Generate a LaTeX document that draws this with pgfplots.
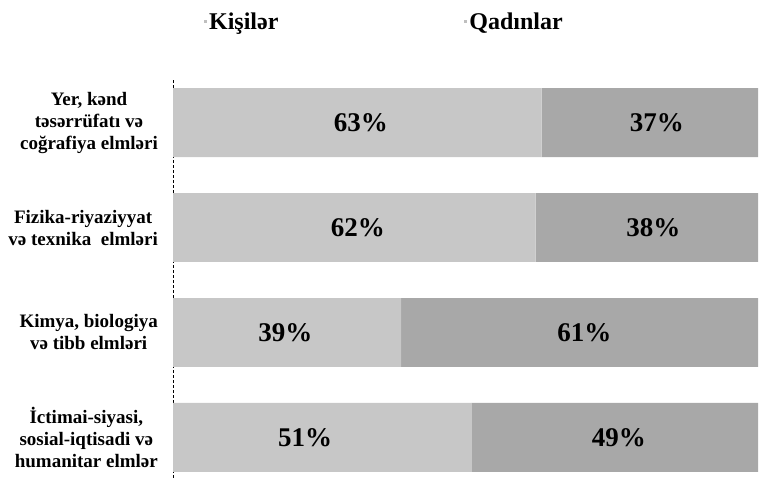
\documentclass[border=0pt]{standalone}
\usepackage{pgfplots}
\pgfplotsset{compat=1.18}
\usepackage{fontspec}
\setmainfont{Liberation Serif}
\tikzset{pct/.style={font=\fontsize{27}{31}\selectfont\bfseries}}
\begin{document}
\begin{tikzpicture}
\path[use as bounding box] (0,0) rectangle (760pt,482pt);
\begin{axis}[
  at={(173pt,2pt)}, anchor=south west,
  scale only axis, width=585pt, height=400pt,
  xbar stacked, bar width=0.657,
  xmin=0, xmax=100, ymin=-0.405, ymax=3.405, y dir=reverse,
  axis x line=none, axis y line*=left,
  y axis line style={densely dashed, line width=0.7pt},
  ytick={0,1,2,3}, major tick length=0pt,
  yticklabels={{Yer, kənd\\təsərrüfatı və\\coğrafiya elmləri},
               {Fizika-riyaziyyat\\və texnika~~elmləri},
               {Kimya, biologiya\\və tibb elmləri},
               {İctimai-siyasi,\\sosial-iqtisadi~və\\humanitar elmlər}},
  yticklabel style={align=center, font=\fontsize{19}{22}\selectfont\bfseries, inner sep=6pt, xshift=-9pt},
  legend style={draw=none, fill=none, at={(0.3615,1.145)}, anchor=center,
    legend columns=2, font=\fontsize{24}{28}\selectfont\bfseries,
    /tikz/every even column/.append style={column sep=184pt}},
  legend image code/.code={\fill[black!25] (0pt,-1.5pt) rectangle (3pt,1.5pt);},
]
\addplot[fill=black!22, draw=none] coordinates {(63,0) (62,1) (39,2) (51,3)};
\addplot[fill=black!34, draw=none] coordinates {(37,0) (38,1) (61,2) (49,3)};
\legend{Kişilər, Qadınlar}
\coordinate (a1) at (axis cs:32.1,0);
\coordinate (b1) at (axis cs:82.7,0);
\coordinate (a2) at (axis cs:31.6,1);
\coordinate (b2) at (axis cs:82.1,1);
\coordinate (a3) at (axis cs:19.2,2);
\coordinate (b3) at (axis cs:70.3,2);
\coordinate (a4) at (axis cs:22.6,3);
\coordinate (b4) at (axis cs:76.2,3);
\end{axis}
\node[pct] at (a1) {63\%};
\node[pct] at (b1) {37\%};
\node[pct] at (a2) {62\%};
\node[pct] at (b2) {38\%};
\node[pct] at (a3) {39\%};
\node[pct] at (b3) {61\%};
\node[pct] at (a4) {51\%};
\node[pct] at (b4) {49\%};
\end{tikzpicture}
\end{document}
